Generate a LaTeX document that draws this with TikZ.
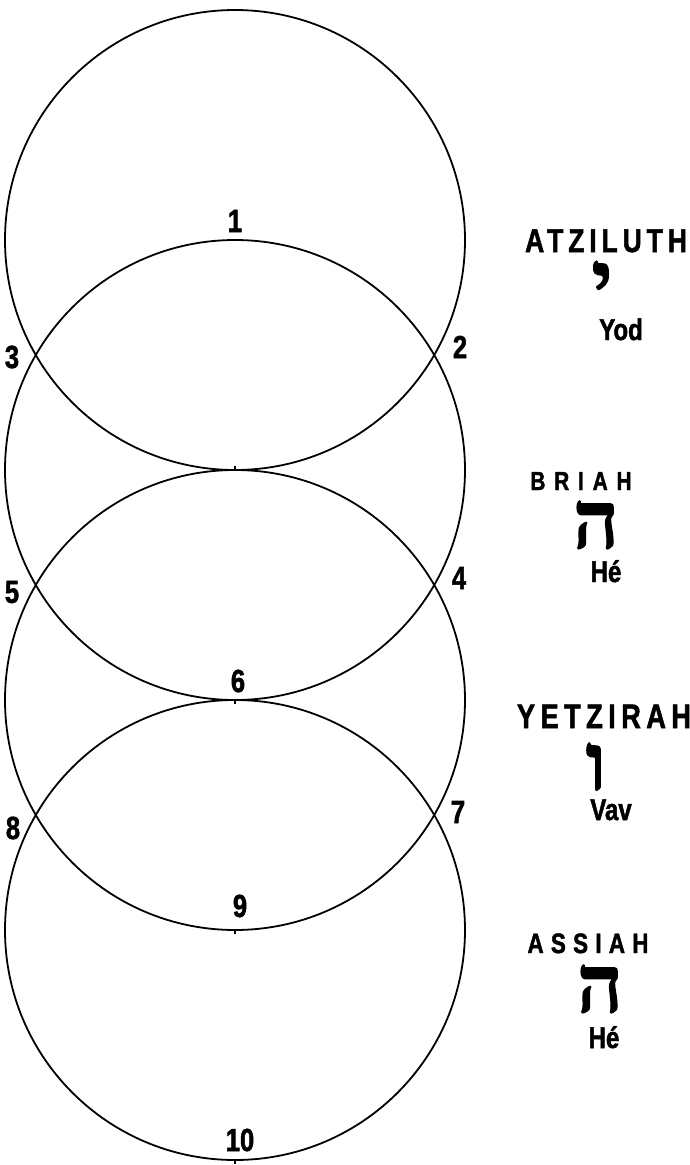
\documentclass[tikz,border=0pt]{standalone}
\usepackage{fontspec}
\setmainfont{Liberation Sans}
\newfontfamily\condfont[FakeStretch=0.8, FakeBold=1.6, UprightFont={* Bold}]{Liberation Sans}
\newfontfamily\hebfont[Script=Hebrew, FakeBold=1.4, UprightFont={* Bold}]{Liberation Serif}
\usetikzlibrary{positioning}

\tikzset{
  world/.style 2 args={inner sep=0pt, anchor=base,
    font=\condfont\fontsize{#1}{#1}\selectfont\addfontfeature{LetterSpace=#2}},
  pointnum/.style={inner sep=0pt, font=\condfont\fontsize{32}{34}\selectfont},
  letter/.style={inner sep=0pt, anchor=base, font=\hebfont\fontsize{80}{84}\selectfont},
  lettername/.style={inner sep=0pt, anchor=base, font=\condfont\fontsize{30}{32}\selectfont},
  sphere/.style={line width=1.8pt}
}

\begin{document}
\begin{tikzpicture}[x=1pt, y=-1pt]
  \useasboundingbox (0,0) rectangle (690,1165);

  % centres of the four worlds
  \coordinate (c1) at (235,240);
  \coordinate (c2) at (235,470);
  \coordinate (c3) at (235,700);
  \coordinate (c4) at (235,930);
  \coordinate (c5) at (235,1160);

  \foreach \c in {c1,c2,c3,c4}
    \draw[sphere] (\c) circle[radius=230pt];

  % small marks on the axis
  \draw[line width=1.6pt] (c2) -- ++(0,-4);
  \draw[line width=1.6pt] (c3) -- ++(0,4);
  \draw[line width=1.6pt] (c4) -- ++(0,4);
  \draw[line width=1.6pt] (c5) -- ++(0,4);

  % sephiroth
  \node[pointnum] (n1) at (235,221) {1};
  \node[pointnum] (n2) at (460,347) {2};
  \node[pointnum] (n3) at (12,357) {3};
  \node[pointnum] (n4) at (459,578) {4};
  \node[pointnum] (n5) at (12,592) {5};
  \node[pointnum] (n6) at (238,681) {6};
  \node[pointnum] (n7) at (458,812) {7};
  \node[pointnum] (n8) at (13,828) {8};
  \node[pointnum] (n9) at (240,906) {9};
  \node[pointnum] (n10) at (240,1140) {10};

  % worlds and letters
  \node[world={33}{15}] (atz) at (606,252) {ATZILUTH};
  \node[letter] (yod) at (602,308) {י};
  \node[lettername] (yodname) at (621,340) {Yod};

  \node[world={26}{34}] (bri) at (581,490) {BRIAH};
  \node[letter] (he1) at (596,548) {ה};
  \node[lettername] (he1name) at (606,582) {Hé};

  \node[world={34}{16}] (yetz) at (604,728) {YETZIRAH};
  \node[letter] (vav) at (596,790) {ו};
  \node[lettername] (vavname) at (611,820) {Vav};

  \node[world={28}{26}] (ass) at (588,953) {ASSIAH};
  \node[letter] (he2) at (600,1012) {ה};
  \node[lettername] (he2name) at (604,1048) {Hé};
\end{tikzpicture}
\end{document}
